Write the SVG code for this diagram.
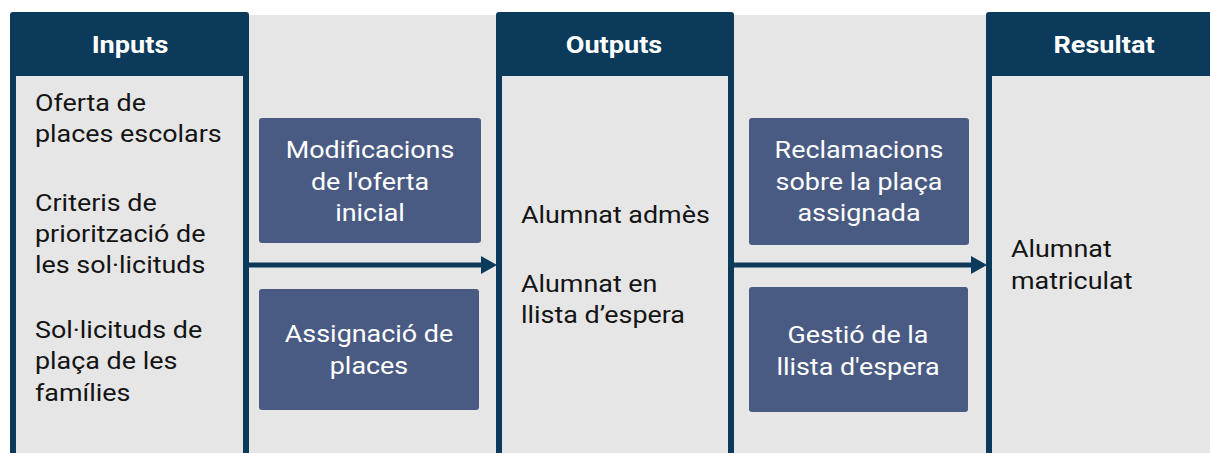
<svg xmlns="http://www.w3.org/2000/svg" width="1210" height="453" viewBox="0 0 1210 453">
<style>
.col{fill:#0b3a5b}
.inner{fill:#e6e6e6}
.hdr{font-family:Roboto,"Liberation Sans",sans-serif;font-weight:bold;font-size:24px;fill:#ffffff;text-anchor:middle}
.txt{font-family:Roboto,"Liberation Sans",sans-serif;font-size:24px;fill:#141414}
.box{fill:#4a5b83}
.btxt{font-family:Roboto,"Liberation Sans",sans-serif;font-size:24px;fill:#ffffff;text-anchor:middle}
.conn{stroke:#0b3a5b;stroke-width:5;fill:none}
.head{fill:#0b3a5b}
</style>
<rect x="10" y="15" width="1200" height="438" fill="#e6e6e6"/>
<g id="inputs">
<rect class="col" x="10" y="12" width="239" height="450" rx="3"/>
<rect class="inner" x="16" y="76" width="227" height="390"/>
<g transform="translate(130,0) scale(1.13,1)"><text class="hdr" x="0" y="53">Inputs</text></g>
<g transform="translate(35,0) scale(1.12,1)">
<text class="txt" x="0" y="111">Oferta de</text>
<text class="txt" x="0" y="142">places escolars</text>
<text class="txt" x="0" y="211">Criteris de</text>
<text class="txt" x="0" y="242">priorització de</text>
<text class="txt" x="0" y="273">les sol·licituds</text>
<text class="txt" x="0" y="338">Sol·licituds de</text>
<text class="txt" x="0" y="369">plaça de les</text>
<text class="txt" x="0" y="401">famílies</text>
</g>
</g>
<g id="outputs">
<rect class="col" x="496" y="12" width="238" height="450" rx="3"/>
<rect class="inner" x="502" y="76" width="226" height="390"/>
<g transform="translate(614,0) scale(1.13,1)"><text class="hdr" x="0" y="53">Outputs</text></g>
<g transform="translate(521,0) scale(1.12,1)">
<text class="txt" x="0" y="223">Alumnat admès</text>
<text class="txt" x="0" y="292">Alumnat en</text>
<text class="txt" x="0" y="323">llista d’espera</text>
</g>
</g>
<g id="resultat">
<rect class="col" x="986" y="12" width="240" height="450" rx="3"/>
<rect class="inner" x="992" y="76" width="230" height="390"/>
<g transform="translate(1104,0) scale(1.13,1)"><text class="hdr" x="0" y="53">Resultat</text></g>
<g transform="translate(1011,0) scale(1.12,1)">
<text class="txt" x="0" y="257">Alumnat</text>
<text class="txt" x="0" y="289">matriculat</text>
</g>
</g>
<g id="connectors">
<line class="conn" x1="243" y1="265" x2="483" y2="265"/>
<polygon class="head" points="481,256 497,265 481,274"/>
<line class="conn" x1="728" y1="265" x2="973" y2="265"/>
<polygon class="head" points="971,256 987,265 971,274"/>
</g>
<g id="modificacions">
<rect class="box" x="259" y="118" width="222" height="125" rx="3"/>
<g transform="translate(370,0) scale(1.12,1)">
<text class="btxt" x="0" y="158">Modificacions</text>
<text class="btxt" x="0" y="190">de l'oferta</text>
<text class="btxt" x="0" y="221">inicial</text>
</g>
</g>
<g id="assignacio">
<rect class="box" x="259" y="289" width="220" height="121" rx="3"/>
<g transform="translate(369,0) scale(1.12,1)">
<text class="btxt" x="0" y="342">Assignació de</text>
<text class="btxt" x="0" y="374">places</text>
</g>
</g>
<g id="reclamacions">
<rect class="box" x="749" y="118" width="220" height="127" rx="3"/>
<g transform="translate(859,0) scale(1.12,1)">
<text class="btxt" x="0" y="158">Reclamacions</text>
<text class="btxt" x="0" y="190">sobre la plaça</text>
<text class="btxt" x="0" y="221">assignada</text>
</g>
</g>
<g id="gestio">
<rect class="box" x="749" y="287" width="219" height="125" rx="3"/>
<g transform="translate(858,0) scale(1.12,1)">
<text class="btxt" x="0" y="343">Gestió de la</text>
<text class="btxt" x="0" y="375">llista d'espera</text>
</g>
</g>
</svg>
